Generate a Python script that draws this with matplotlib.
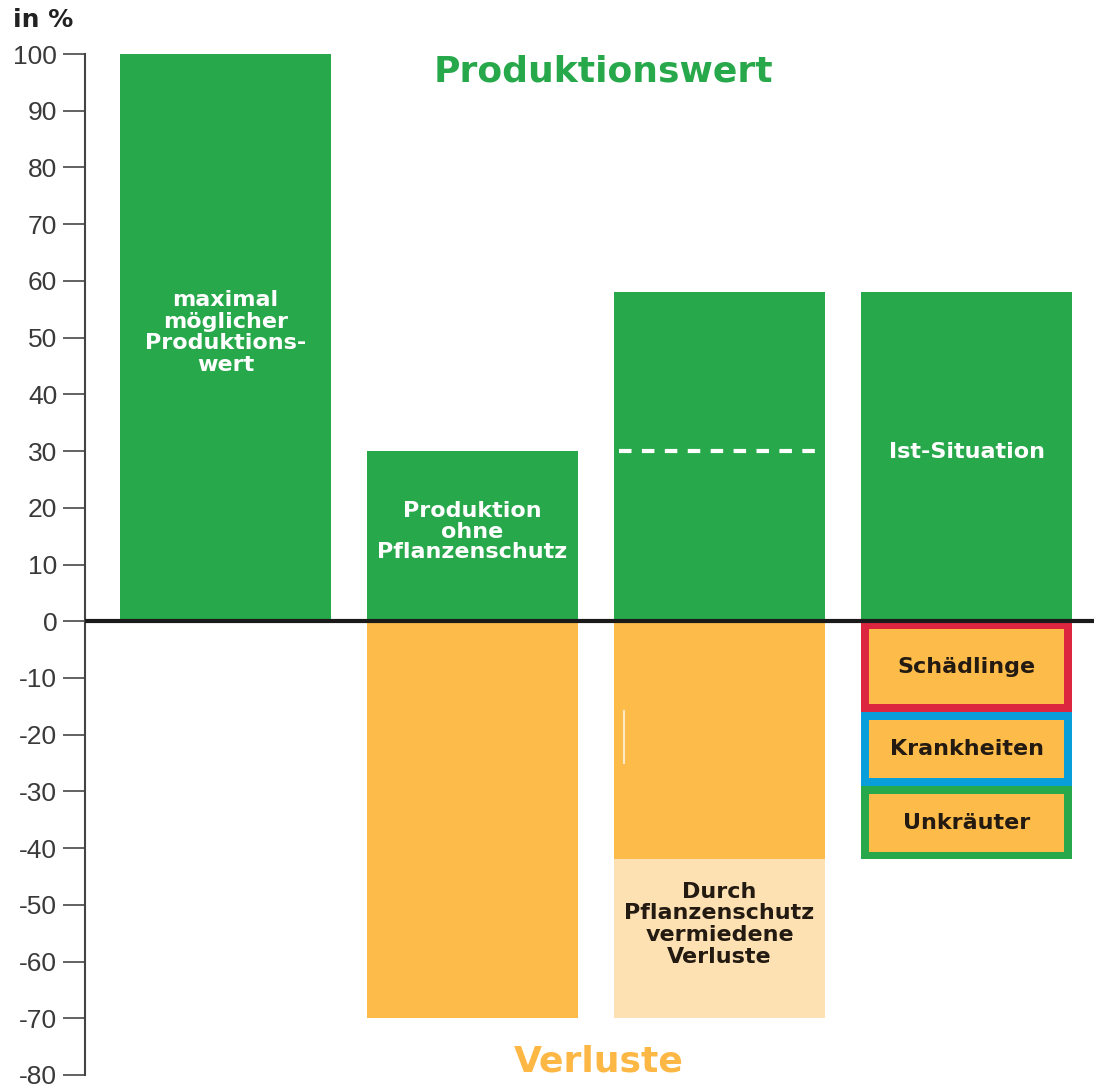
import matplotlib.pyplot as plt

plt.rcParams['font.family'] = ['Liberation Sans', 'DejaVu Sans']

# data (percent of maximal production value)
positions = [0, 1, 2, 3]
green_values = [100, 30, 58, 58]
loss_values = [0, -70, -42, 0]
avoided_bottom = -42
avoided_height = -28
dashed_level = 30
stack_bottoms = [0, -16, -29]
stack_heights = [-16, -13, -13]
stack_names = ['Schädlinge', 'Krankheiten', 'Unkräuter']
yticks = list(range(-80, 101, 10))

green = '#27a84a'
orange = '#fdbb4a'
light_orange = '#fee1b2'
dark = '#231a12'
border_colors = ['#dc2640', '#079eda', '#27a84a']
bold_font = ['DejaVu Sans']

fig = plt.figure(figsize=(10.94, 10.88), dpi=100)
ax = fig.add_axes([85 / 1094, 13 / 1088, 1 - 85 / 1094, 1021 / 1088])

w = 0.855
ax.bar(positions, green_values, width=w, color=green, zorder=2)
ax.bar(positions, loss_values, width=w, color=orange, zorder=2)
ax.bar(positions[2], avoided_height, bottom=avoided_bottom, width=w,
       color=light_orange, zorder=2)

# dashed line in third bar
ax.plot([2 - w / 2 + 0.02, 2 + w / 2 - 0.02], [dashed_level, dashed_level],
        color='white', lw=3, dashes=(3, 2.5), zorder=3)
# small light artifact line
ax.plot([1.615, 1.615], [-15.9, -25], color='#ffe9c4', lw=1.5, zorder=3)

# stacked boxes with coloured borders
inset_x = 0.032
inset_y = 1.4
for b, h, c, name in zip(stack_bottoms, stack_heights, border_colors, stack_names):
    ax.bar(3, h, bottom=b, width=w, color=c, zorder=2)
    ax.bar(3, h + 2 * inset_y, bottom=b - inset_y, width=w - 2 * inset_x,
           color=orange, zorder=3)
    ax.text(3, b + h / 2, name, ha='center', va='center', fontsize=16,
            fontweight='bold', color=dark, family=bold_font, zorder=4)

# zero line
ax.axhline(0, color='#1a1a1a', lw=3, zorder=5)

# bar labels
ax.text(0, 50.9, 'maximal\nmöglicher\nProduktions-\nwert', ha='center', va='center',
        fontsize=16, fontweight='bold', color='white', family=bold_font,
        linespacing=1.1, zorder=4)
ax.text(1, 15.8, 'Produktion\nohne\nPflanzenschutz', ha='center', va='center',
        fontsize=16, fontweight='bold', color='white', family=bold_font,
        linespacing=1.03, zorder=4)
ax.text(3, 29.8, 'Ist-Situation', ha='center', va='center',
        fontsize=16, fontweight='bold', color='white', family=bold_font, zorder=4)
ax.text(2, -53.4, 'Durch\nPflanzenschutz\nvermiedene\nVerluste', ha='center', va='center',
        fontsize=16, fontweight='bold', color=dark, family=bold_font,
        linespacing=1.1, zorder=4)

ax.text(1.53, 97, 'Produktionswert', ha='center', va='center',
        fontsize=26, fontweight='bold', color=green, family=bold_font)
ax.text(1.51, -77.7, 'Verluste', ha='center', va='center',
        fontsize=26, fontweight='bold', color='#fdb745', family=bold_font)
fig.text(13 / 1094, 1 - 20 / 1088, 'in %', ha='left', va='center',
         fontsize=18, fontweight='bold', color='#222222', family=bold_font)

ax.set_xlim(-0.569, 3.516)
ax.set_ylim(-80, 100)
ax.set_yticks(yticks)
ax.set_yticklabels([str(t) for t in yticks], fontsize=19, color='#3a3a3a')
ax.tick_params(axis='y', length=16, width=1.3, color='#555555', pad=4)
ax.set_xticks([])
for s in ['top', 'right', 'bottom']:
    ax.spines[s].set_visible(False)
ax.spines['left'].set_color('#444444')
ax.spines['left'].set_linewidth(1.5)
ax.spines['left'].set_bounds(-80, 100)

fig.savefig('out.png', dpi=100)
